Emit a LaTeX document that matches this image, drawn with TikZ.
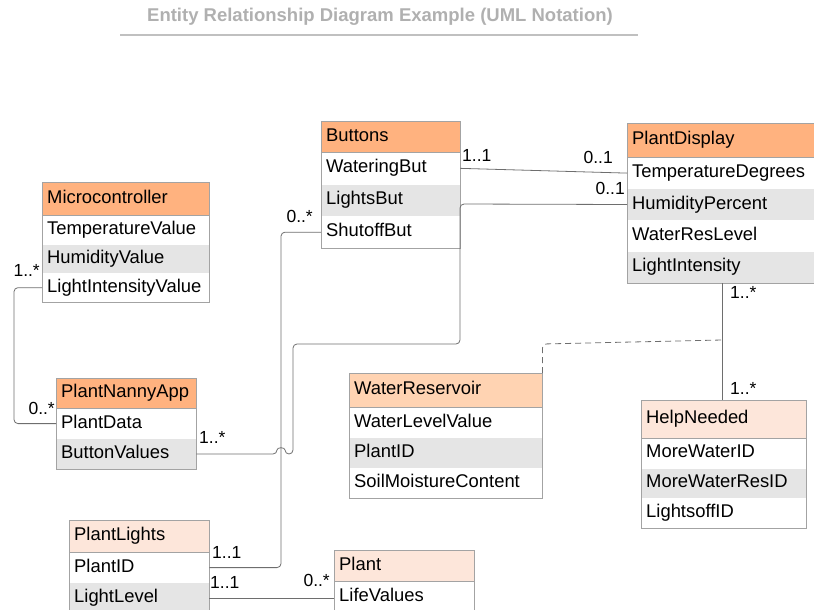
\documentclass[tikz,border=0pt]{standalone}
\usepackage{fontspec}
\setmainfont{Liberation Sans}
\usetikzlibrary{positioning}

\definecolor{hdrA}{HTML}{FFB27F}
\definecolor{hdrB}{HTML}{FFD3B2}
\definecolor{hdrC}{HTML}{FDE6DA}
\definecolor{rowgrey}{HTML}{E5E5E5}
\definecolor{bordergrey}{HTML}{A3A3A3}
\definecolor{connclr}{HTML}{6E6E6E}
\definecolor{titlegrey}{HTML}{B0B0B0}

\begin{document}
\begin{tikzpicture}[x=1pt, y=-1pt, font=\fontsize{18.4}{21}\selectfont]
\tikzset{entity/.style={rectangle, anchor=north west, align=left, text width=#1, minimum height=32pt, inner xsep=5pt, text height=13pt, text depth=4pt, draw=bordergrey, fill=hdrA},
		attr/.style={rectangle, align=left, text width=#1, minimum height=30pt, inner xsep=5pt, text height=13pt, text depth=4pt, fill=white},
		attrg/.style={attr=#1, fill=rowgrey},
		boxframe/.style={draw=bordergrey, line width=0.8pt},
		conn/.style={draw=connclr, line width=0.8pt, rounded corners=4pt},
		dconn/.style={conn, dashed, dash pattern=on 6pt off 4pt},
		mult/.style={inner sep=0pt, font=\fontsize{17.5}{20}\selectfont},
		heading/.style={font=\bfseries\fontsize{18.5}{22}\selectfont, text=titlegrey}}
\useasboundingbox (0,0) rectangle (814,610);

% title
\node[heading] (ttl) at (380,17) {Entity Relationship Diagram Example (UML Notation)};
\draw[titlegrey!80, line width=1.5pt] (120,35) -- (638,35);

% Microcontroller
\node[entity=157pt, minimum height=33pt] (MC) at (42,182) {Microcontroller};
\node[attr=157pt, below=0pt of MC, minimum height=28.5pt] (MCtemp) {TemperatureValue};
\node[attrg=157pt, below=0pt of MCtemp, minimum height=28.5pt] (MChum) {HumidityValue};
\node[attr=157pt, below=0pt of MChum, minimum height=28.5pt] (MClight) {LightIntensityValue};
\draw[boxframe] (MC.north west) rectangle (MClight.south east);

% Buttons
\node[entity=129pt, minimum height=31pt] (BT) at (321,121) {Buttons};
\node[attr=129pt, below=0pt of BT, minimum height=31.5pt] (BTwater) {WateringBut};
\node[attrg=129pt, below=0pt of BTwater, minimum height=31.5pt] (BTlights) {LightsBut};
\node[attr=129pt, below=0pt of BTlights, minimum height=31.5pt] (BTshut) {ShutoffBut};
\draw[boxframe] (BT.north west) rectangle (BTshut.south east);

% PlantDisplay
\node[entity=180pt, minimum height=34pt] (PD) at (627,123) {PlantDisplay};
\node[attr=180pt, below=0pt of PD, minimum height=31pt] (PDtemp) {TemperatureDegrees};
\node[attrg=180pt, below=0pt of PDtemp, minimum height=31pt] (PDhum) {HumidityPercent};
\node[attr=180pt, below=0pt of PDhum, minimum height=31pt] (PDwater) {WaterResLevel};
\node[attrg=180pt, below=0pt of PDwater, minimum height=31pt] (PDlight) {LightIntensity};
\draw[boxframe] (PD.north west) rectangle (PDlight.south east);

% PlantNannyApp
\node[entity=130pt, minimum height=30pt] (PNA) at (56,378) {PlantNannyApp};
\node[attr=130pt, below=0pt of PNA] (PNAdata) {PlantData};
\node[attrg=130pt, below=0pt of PNAdata] (PNAbtn) {ButtonValues};
\draw[boxframe] (PNA.north west) rectangle (PNAbtn.south east);

% WaterReservoir
\node[entity=183pt, minimum height=34pt, fill=hdrB] (WR) at (349,373) {WaterReservoir};
\node[attr=183pt, below=0pt of WR] (WRlevel) {WaterLevelValue};
\node[attrg=183pt, below=0pt of WRlevel] (WRid) {PlantID};
\node[attr=183pt, below=0pt of WRid] (WRsoil) {SoilMoistureContent};
\draw[boxframe] (WR.north west) rectangle (WRsoil.south east);

% HelpNeeded
\node[entity=155pt, minimum height=38pt, fill=hdrC] (HN) at (641,400) {HelpNeeded};
\node[attr=155pt, below=0pt of HN, minimum height=29.5pt] (HNwater) {MoreWaterID};
\node[attrg=155pt, below=0pt of HNwater, minimum height=29.5pt] (HNres) {MoreWaterResID};
\node[attr=155pt, below=0pt of HNres, minimum height=29.5pt] (HNoff) {LightsoffID};
\draw[boxframe] (HN.north west) rectangle (HNoff.south east);

% PlantLights
\node[entity=130pt, fill=hdrC] (PL) at (69,520) {PlantLights};
\node[attr=130pt, below=0pt of PL] (PLid) {PlantID};
\node[attrg=130pt, below=0pt of PLid] (PLlevel) {LightLevel};
\draw[boxframe] (PL.north west) rectangle (PLlevel.south east);

% Plant
\node[entity=130pt, minimum height=31pt, fill=hdrC] (PT) at (334,550) {Plant};
\node[attr=130pt, below=0pt of PT] (PTlife) {LifeValues};
\draw[boxframe] (PT.north west) rectangle (PTlife.south east);

% connectors
\coordinate (hop) at (PNAbtn.east -| 281,0);
\draw[conn] (MClight.west) -- ++(-28,0) |- (PNAdata.west);
\draw[conn] (BTshut.west) -- ++(-40,0) |- (PLid.east);
\draw[conn] (PNAbtn.east) -- ([xshift=-4pt]hop) .. controls ([xshift=-4pt,yshift=7pt]hop) and ([xshift=4pt,yshift=7pt]hop) .. ([xshift=4pt]hop)
	-- ([xshift=12pt]hop) -- (293,344) -- (460,344) -- (460,204) -- (PDhum.west);
\draw[conn] (BTwater.east) -- (PDtemp.west);
\draw[conn] (PDlight.south) -- (PDlight.south |- HN.north);
\coordinate (dj) at (PDlight.south |- 0,340);
\draw[dconn] (WR.north east) -- ++(0,-29) -- (dj);
\draw[conn] (PLlevel.east) -- (PLlevel.east -| PTlife.west);

% multiplicities
\node[mult, anchor=base east] (m1) at (40,276) {1..*};
\node[mult, anchor=base east] (m2) at (55,414) {0..*};
\node[mult, anchor=base west] (m3) at (199,443) {1..*};
\node[mult, anchor=base east] (m4) at (313,222) {0..*};
\node[mult, anchor=base west] (m5) at (462,161) {1..1};
\node[mult, anchor=base east] (m6) at (613,163) {0..1};
\node[mult, anchor=base east] (m7) at (625,194) {0..1};
\node[mult, anchor=base west] (m8) at (730,298) {1..*};
\node[mult, anchor=base west] (m9) at (730,394) {1..*};
\node[mult, anchor=base west] (m10) at (212,558) {1..1};
\node[mult, anchor=base west] (m11) at (210,588) {1..1};
\node[mult, anchor=base east] (m12) at (330,586) {0..*};
\end{tikzpicture}
\end{document}
